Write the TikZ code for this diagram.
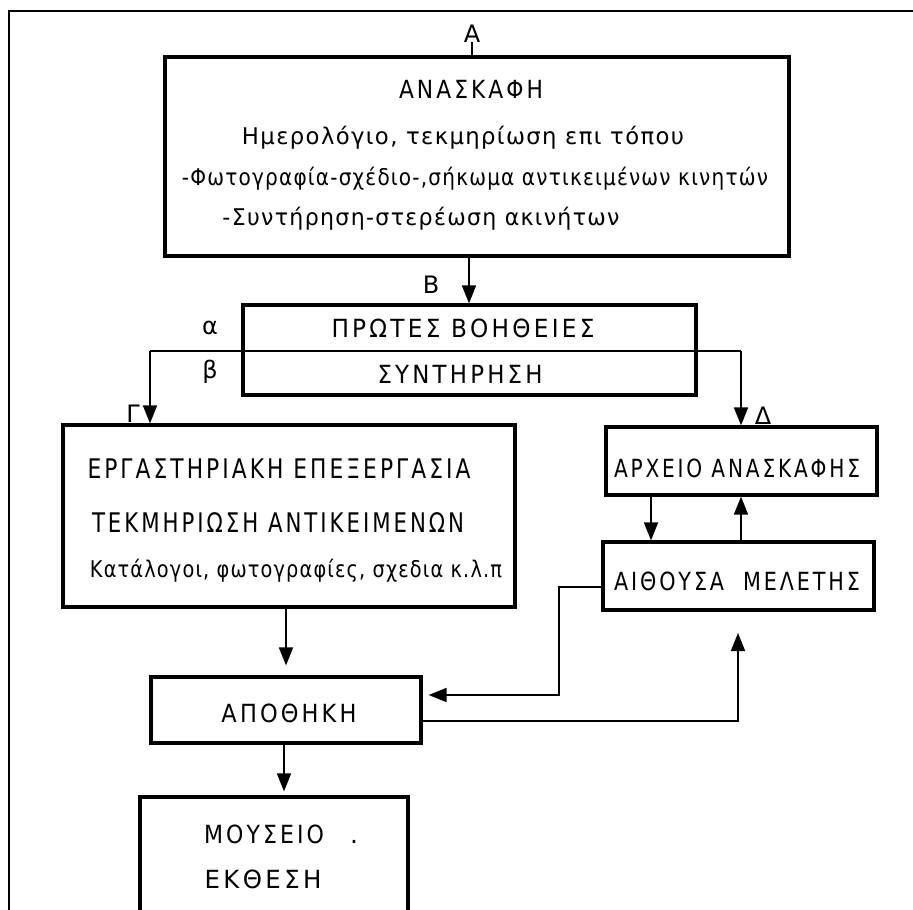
\documentclass[tikz,border=0pt]{standalone}
\usepackage{fontspec}
\setmainfont{DejaVu Sans}
\newfontfamily\spcfont[LetterSpace=14]{DejaVu Sans}
\newfontfamily\lowfont[LetterSpace=6]{DejaVu Sans}
\usepackage{graphicx}
\usetikzlibrary{arrows.meta}
\newcommand{\fitw}[2]{\resizebox{#1pt}{\height}{#2}}
\begin{document}
\begin{tikzpicture}[x=1pt,y=-1pt,
  box/.style={draw, line width=3.2pt, inner sep=0pt},
  conn/.style={line width=1.6pt},
  arr/.style={conn, -{Triangle[length=18pt,width=14pt]}},
  frameline/.style={line width=2.2pt},
  lbl/.style={inner sep=0pt, anchor=base, font=\fontsize{24}{28}\selectfont},
  capt/.style={inner sep=0pt, anchor=base, font=\spcfont\fontsize{25}{29}\selectfont},
  bigcapt/.style={inner sep=0pt, anchor=base, font=\spcfont\fontsize{27}{31}\selectfont},
  lowt/.style={inner sep=0pt, anchor=base, font=\lowfont\fontsize{23}{27}\selectfont}]
\clip (0,0) rectangle (913,910);
\fill[white] (0,0) rectangle (913,910);
% frame
\draw[frameline] (9,940) -- (9,11) -- (940,11);
% boxes
\node[box, minimum width=624pt, minimum height=199pt] (boxA) at (477,156.5) {};
\node[box, minimum width=453pt, minimum height=90pt] (boxB) at (469.5,350) {};
\node[box, minimum width=452pt, minimum height=182pt] (boxG) at (289,516) {};
\node[box, minimum width=271pt, minimum height=68pt] (boxD) at (741.5,461) {};
\node[box, minimum width=271pt, minimum height=68pt] (boxAi) at (738.5,576) {};
\node[box, minimum width=270pt, minimum height=66pt] (boxAp) at (286,710) {};
\node[box, minimum width=268pt, minimum height=160pt] (boxM) at (274,877) {};
% labels
\node[lbl] (labA) at (472,42) {A};
\node[lbl] (labB) at (431,293) {B};
\node[lbl] (laba) at (210,334) {α};
\node[lbl] (labb) at (210,378) {β};
\node[lbl] (labG) at (133,422) {Γ};
\node[lbl] (labD) at (763,424) {Δ};
% texts
\node[capt] (tA1) at (471,98) {\fitw{144}{ΑΝΑΣΚΑΦΗ}};
\node[lowt] (tA2) at (463,144) {\fitw{442}{Ημερολόγιο, τεκμηρίωση επι τόπου}};
\node[lowt] (tA3) at (475,185) {\fitw{586}{-Φωτογραφία-σχέδιο-,σήκωμα αντικειμένων κινητών}};
\node[lowt] (tA4) at (421,225) {\fitw{397}{-Συντήρηση-στερέωση ακινήτων}};
\node[capt] (tB1) at (463,337) {\fitw{263}{ΠΡΩΤΕΣ ΒΟΗΘΕΙΕΣ}};
\node[capt] (tB2) at (460,383) {\fitw{165}{ΣΥΝΤΗΡΗΣΗ}};
\node[bigcapt] (tG1) at (279,478) {\fitw{383}{ΕΡΓΑΣΤΗΡΙΑΚΗ ΕΠΕΞΕΡΓΑΣΙΑ}};
\node[bigcapt] (tG2) at (278,532) {\fitw{372}{ΤΕΚΜΗΡΙΩΣΗ ΑΝΤΙΚΕΙΜΕΝΩΝ}};
\node[lowt] (tG3) at (296,577) {\fitw{412}{Κατάλογοι, φωτογραφίες, σχεδια κ.λ.π}};
\node[capt] (tD) at (737,477) {\fitw{246}{ΑΡΧΕΙΟ ΑΝΑΣΚΑΦΗΣ}};
\node[capt] (tAi) at (737,590) {\fitw{246}{ΑΙΘΟΥΣΑ\ \ ΜΕΛΕΤΗΣ}};
\node[capt] (tAp) at (289,722) {\fitw{135}{ΑΠΟΘΗΚΗ}};
\node[capt] (tM1) at (264,843) {\fitw{120}{ΜΟΥΣΕΙΟ}};
\node[capt] (tMd) at (354,843) {.};
\node[capt] (tM2) at (263,888) {\fitw{117}{ΕΚΘΕΣΗ}};
% connectors
\draw[conn] (labA.south) -- (boxA.north -| labA.south);
\coordinate (xab) at (469,0);
\draw[arr] (boxA.south -| xab) -- (boxB.north -| xab);
\coordinate (sL) at (150,351);
\coordinate (sR) at (741,351);
\draw[conn] (sL) -- (sR);
\draw[arr] (sL) -- (sL |- boxG.north);
\draw[arr] (sR) -- (sR |- boxD.north);
\coordinate (xdn) at (651,0);
\draw[arr] (boxD.south -| xdn) -- (boxAi.north -| xdn);
\coordinate (xup) at (741,0);
\draw[arr] (boxAi.north -| xup) -- (boxD.south -| xup);
\coordinate (k1) at (559,587);
\coordinate (k2) at (559,695);
\draw[arr, shorten >=6pt] (boxAi.west |- k1) -- (k1) -- (k2) -- (boxAp.east |- k2);
\coordinate (k3) at (738,721);
\coordinate (k4) at (738,633);
\draw[arr] (boxAp.east |- k3) -- (k3) -- (k4);
\coordinate (xg) at (286,0);
\draw[arr, shorten >=10pt] (boxG.south -| xg) -- (boxAp.north -| xg);
\coordinate (xm) at (284,0);
\draw[arr, shorten >=4pt] (boxAp.south -| xm) -- (boxM.north -| xm);
\end{tikzpicture}
\end{document}
